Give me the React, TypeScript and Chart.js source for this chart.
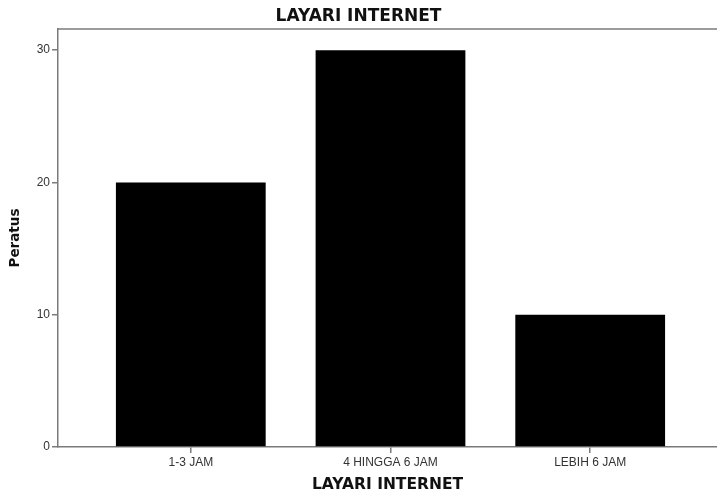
import React, { useEffect, useRef } from "react";
import { Chart, registerables } from "chart.js";

Chart.register(...registerables);

const categories: string[] = ["1-3 JAM", "4 HINGGA 6 JAM", "LEBIH 6 JAM"];
const percentValues: number[] = [20, 30, 10];
const yTickValues: number[] = [0, 10, 20, 30];
const chartTitle = "LAYARI INTERNET";
const xAxisTitle = "LAYARI INTERNET";
const yAxisTitle = "Peratus";

const FONT = "'Liberation Sans', Arial, sans-serif";
const BOLD_FONT = "'DejaVu Sans', 'Liberation Sans', sans-serif";
const AXIS_COLOR = "#7a7a7a";

const topBorderPlugin = {
  id: "topBorder",
  afterDraw(chart: any) {
    const { ctx, chartArea } = chart;
    ctx.save();
    ctx.strokeStyle = AXIS_COLOR;
    ctx.lineWidth = 1.5;
    ctx.beginPath();
    ctx.moveTo(chartArea.left, chartArea.top);
    ctx.lineTo(chartArea.right, chartArea.top);
    ctx.stroke();
    ctx.restore();
  },
};

export default function App() {
  const canvasRef = useRef<HTMLCanvasElement | null>(null);

  useEffect(() => {
    document.body.style.margin = "0";
    document.body.style.overflow = "hidden";
    const canvas = canvasRef.current;
    if (!canvas) return;
    const chart = new Chart(canvas, {
      type: "bar",
      data: {
        datasets: [
          {
            data: percentValues.map((v, i) => ({ x: i, y: v })),
            backgroundColor: "#000000",
            borderWidth: 0,
            categoryPercentage: 1,
            barPercentage: 0.75,
          },
        ],
      },
      plugins: [topBorderPlugin],
      options: {
        animation: false,
        responsive: true,
        maintainAspectRatio: false,
        layout: { padding: 0 },
        plugins: {
          legend: { display: false },
          tooltip: { enabled: false },
          title: {
            display: true,
            text: chartTitle,
            color: "#111",
            font: { family: BOLD_FONT, size: 17, weight: "bold" },
            padding: { top: 6.5, bottom: 2.1 },
          },
        },
        scales: {
          x: {
            type: "linear",
            min: -0.665,
            max: 2.635,
            offset: false,
            afterBuildTicks: (s: any) => {
              s.ticks = categories.map((_, i) => ({ value: i }));
            },
            afterFit: (s: any) => {
              s.height = 47;
            },
            grid: {
              display: true,
              offset: false,
              drawOnChartArea: false,
              drawTicks: true,
              tickLength: 6,
              color: AXIS_COLOR,
              lineWidth: 1.5,
            },
            border: { display: true, color: AXIS_COLOR, width: 1.5 },
            ticks: {
              autoSkip: false,
              maxRotation: 0,
              padding: 2,
              color: "#333",
              font: { family: FONT, size: 12 },
              callback: (v: any) => categories[Number(v)] ?? "",
            },
            title: {
              display: true,
              text: xAxisTitle,
              color: "#111",
              font: { family: BOLD_FONT, size: 15.5, weight: "bold" },
              padding: { top: 0, bottom: 0 },
            },
          },
          y: {
            type: "linear",
            min: 0,
            max: 31.6,
            afterBuildTicks: (s: any) => {
              s.ticks = yTickValues.map((v) => ({ value: v }));
            },
            afterFit: (s: any) => {
              s.width = 58;
            },
            grid: {
              display: true,
              drawOnChartArea: false,
              drawTicks: true,
              tickLength: 6,
              color: AXIS_COLOR,
              lineWidth: 1.5,
            },
            border: { display: true, color: AXIS_COLOR, width: 1.5 },
            ticks: {
              padding: 2,
              color: "#333",
              font: { family: FONT, size: 12 },
            },
            title: {
              display: true,
              text: yAxisTitle,
              color: "#111",
              font: { family: BOLD_FONT, size: 13.5, weight: "bold" },
              padding: { top: 7, bottom: 0 },
            },
          },
        },
      },
    });
    return () => chart.destroy();
  }, []);

  return (
    <div style={{ width: 717, height: 494, position: "relative", background: "#fff" }}>
      <canvas ref={canvasRef} />
    </div>
  );
}
